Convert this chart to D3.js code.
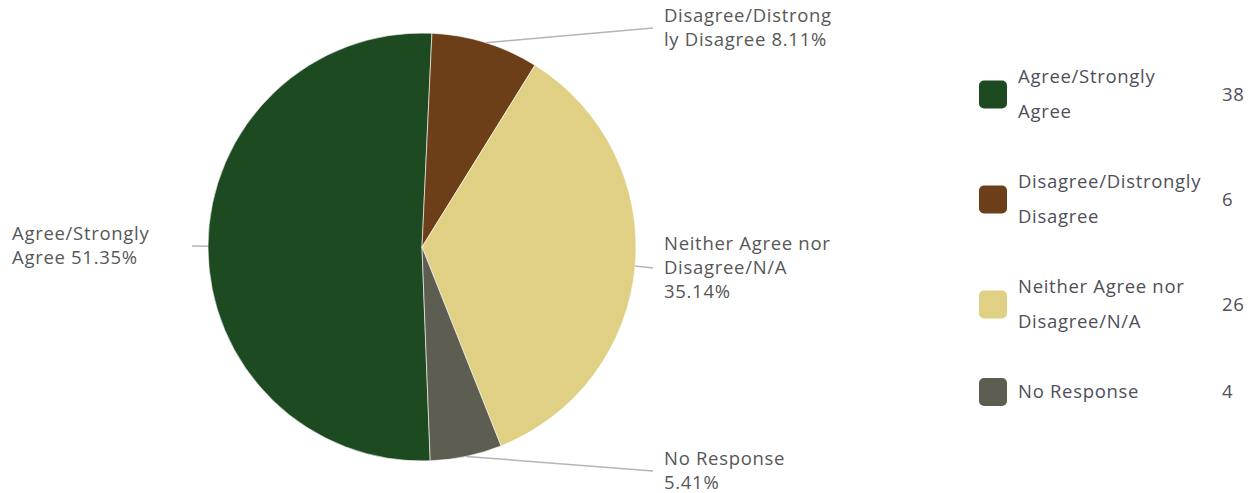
<!DOCTYPE html>
<html>
<head>
<meta charset="utf-8">
<script src="https://cdn.jsdelivr.net/npm/d3@7"></script>
<style>
  body { margin: 0; background: #fff; }
  svg text { font-family: "Open Sans", "Noto Sans", sans-serif; letter-spacing: 0.7px; }
</style>
</head>
<body>
<div id="chart"></div>
<script>
const categories = ["Agree/Strongly Agree", "Disagree/Distrongly Disagree", "Neither Agree nor Disagree/N/A", "No Response"];
const counts = [38, 6, 26, 4];
const colors = ["#1d4a21", "#6c3f18", "#dfd083", "#5e5d52"];

function drawPie(){
    const width = 1252, height = 493;
    const svg = d3.select("#chart").append("svg")
        .attr("width", width)
        .attr("height", height);

    const total = d3.sum(counts);
    const data = categories.map((c, i) => ({name: c, value: counts[i], color: colors[i]}));

    const cx = 422, cy = 247, r = 214;
    const start = 177.8 * Math.PI / 180;
    const pie = d3.pie().sort(null).value(d => d.value)
        .startAngle(start).endAngle(start + 2 * Math.PI);
    const arc = d3.arc().innerRadius(0).outerRadius(r);
    const arcs = pie(data);

    const g = svg.append("g").attr("transform", `translate(${cx},${cy})`);
    g.selectAll("path.slice")
        .data(arcs)
        .join("path")
        .attr("class", "slice")
        .attr("d", arc)
        .attr("fill", d => d.data.color)
        .attr("stroke", "#fff")
        .attr("stroke-width", 0.6);

    // where each leader line ends (relative to pie centre)
    const labelEnds = [[-230, -1], [231, -219], [231, 21], [231, 224]];
    const fontSize = 18.5, lineH = 24, wrapW = 170;

    // greedy wrap, breaking inside a word when it does not fit
    function wrapText(str, maxW, measure){
        const words = str.split(" ");
        const lines = [];
        let cur = "";
        words.forEach(w => {
            const test = cur ? cur + " " + w : w;
            if (measure(test) <= maxW) { cur = test; return; }
            if (cur) lines.push(cur);
            cur = w;
            while (measure(cur) > maxW) {
                let k = cur.length;
                while (k > 1 && measure(cur.slice(0, k)) > maxW) k--;
                lines.push(cur.slice(0, k));
                cur = cur.slice(k);
            }
        });
        if (cur) lines.push(cur);
        return lines;
    }

    const probe = svg.append("text").attr("font-size", fontSize).attr("visibility", "hidden");
    const measure = s => { probe.text(s); return probe.node().getComputedTextLength(); };

    arcs.forEach((d, i) => {
        const mid = (d.startAngle + d.endAngle) / 2;
        const px = r * Math.sin(mid), py = -r * Math.cos(mid);
        const [ex, ey] = labelEnds[i];
        g.append("line")
            .attr("x1", px).attr("y1", py)
            .attr("x2", ex).attr("y2", ey)
            .attr("stroke", "#b5b5b5")
            .attr("stroke-width", 1.5);

        const pct = (d.data.value / total * 100).toFixed(2) + "%";
        const lines = wrapText(d.data.name + " " + pct, wrapW, measure);
        const right = ex > 0;
        const tx = right ? ex + 11 : ex - 180;
        const y0 = ey - (lines.length - 1) * lineH / 2 + 6;
        const t = g.append("text")
            .attr("font-size", fontSize)
            .attr("fill", "#575757");
        lines.forEach((ln, j) => {
            t.append("tspan").attr("x", tx).attr("y", y0 + j * lineH).text(ln);
        });
    });

    // legend
    const legend = svg.append("g");
    const legLineH = 35, legGap = 35, legWrap = 190;
    let yBase = 83;
    data.forEach((d, i) => {
        const lines = wrapText(d.name, legWrap, measure);
        const midY = yBase + (lines.length - 1) * legLineH / 2 - 6;
        legend.append("rect")
            .attr("x", 979).attr("y", midY - 14)
            .attr("width", 28).attr("height", 28)
            .attr("rx", 5)
            .attr("fill", d.color);
        const t = legend.append("text")
            .attr("font-size", fontSize)
            .attr("fill", "#4f4f5a");
        lines.forEach((ln, j) => {
            t.append("tspan").attr("x", 1018).attr("y", yBase + j * legLineH).text(ln);
        });
        legend.append("text")
            .attr("x", 1222).attr("y", midY + 6)
            .attr("font-size", fontSize)
            .attr("fill", "#4f4f5a")
            .text(d.value);
        yBase += lines.length * legLineH + legGap;
    });
    probe.remove();
}

drawPie()
</script>
</body>
</html>
